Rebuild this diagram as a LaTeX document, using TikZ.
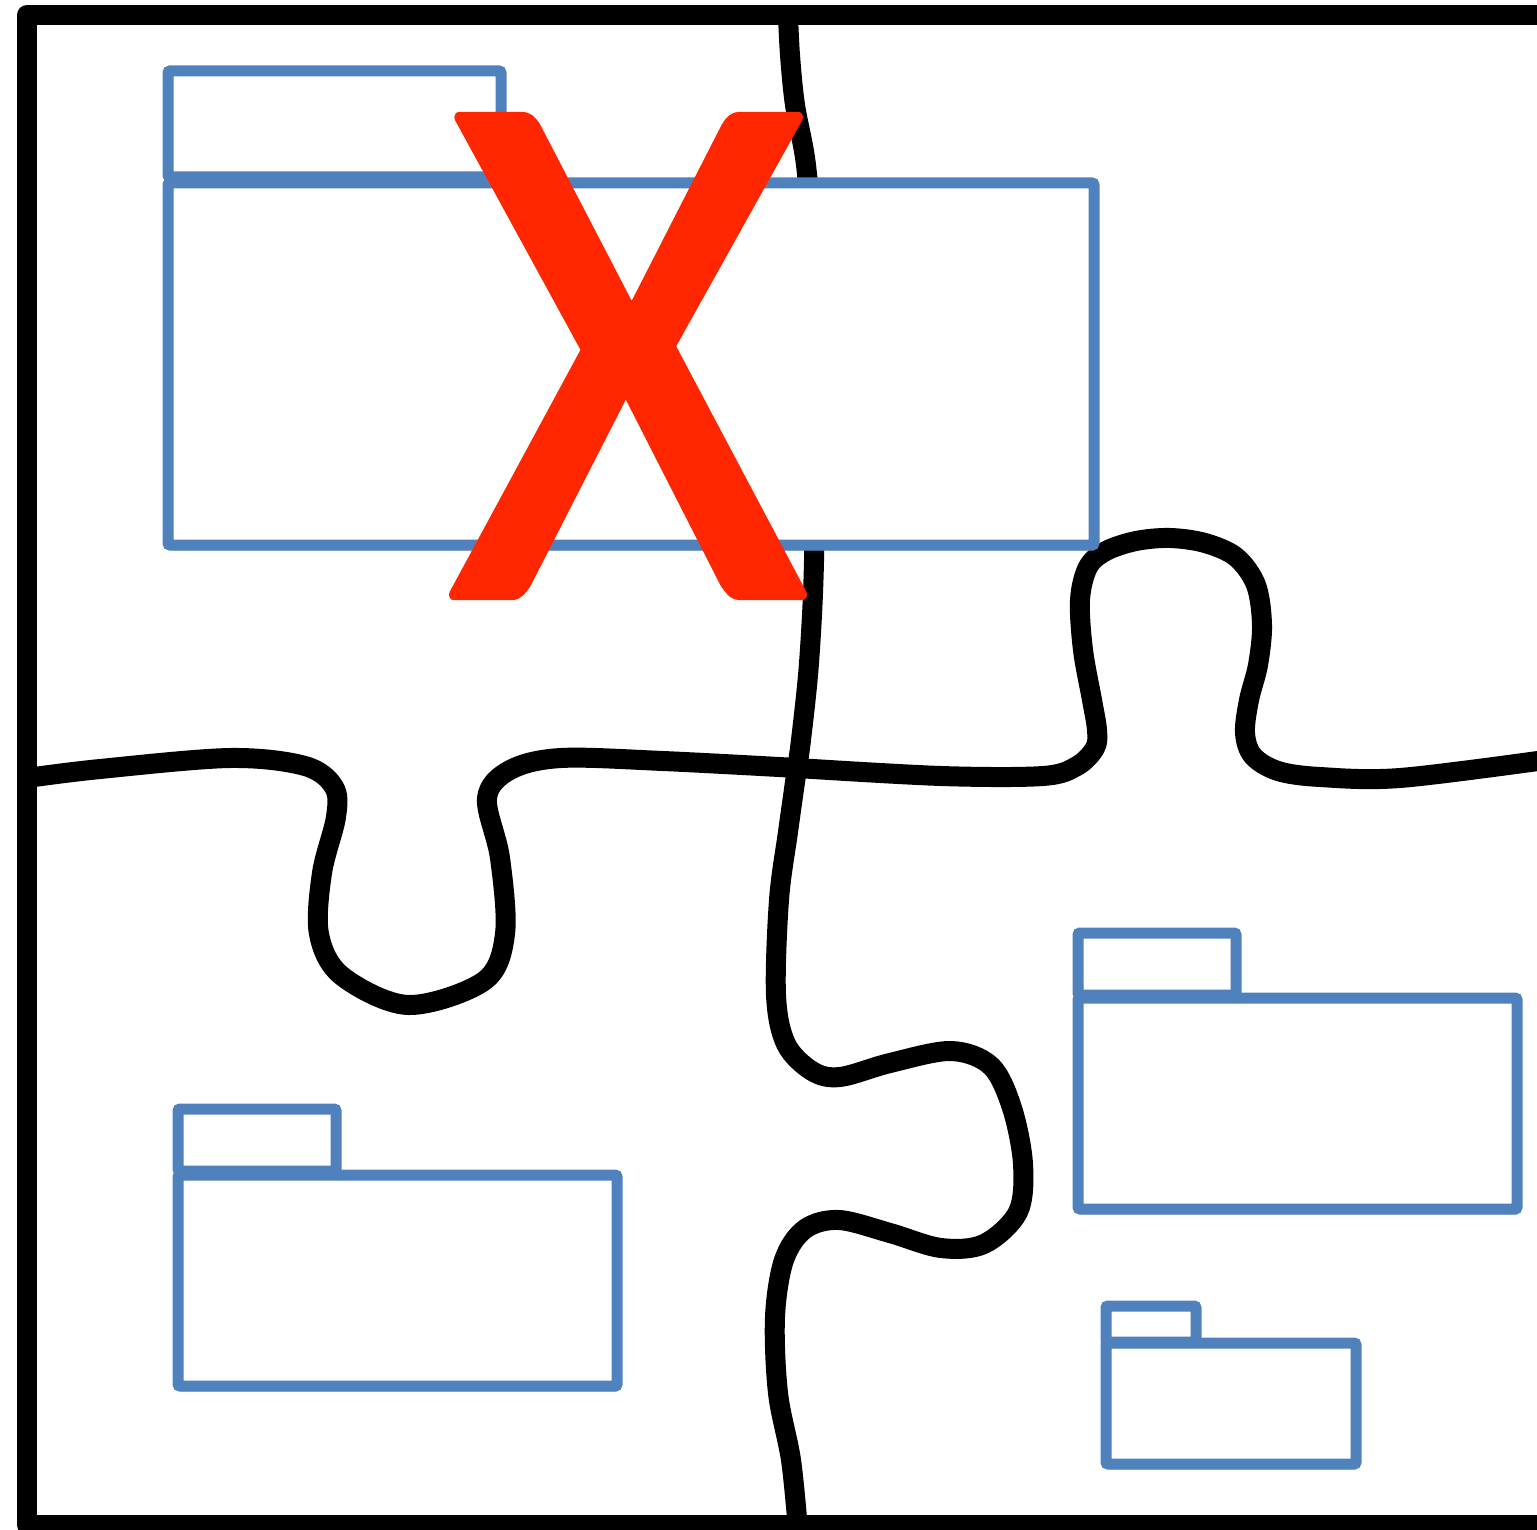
\documentclass[tikz,border=0pt]{standalone}
\usepackage{fontspec}
\newfontfamily\xfont{Carlito}
\usetikzlibrary{shadows}
\definecolor{pkgblue}{RGB}{79,129,189}
\definecolor{xred}{RGB}{255,38,0}
\tikzset{
  edge/.style={line width=20pt, line cap=round, line join=round, black},
  pkg/.style={draw=pkgblue, fill=white, line width=11pt, rounded corners=2pt,
    inner sep=0pt, outer sep=0pt,
    drop shadow={opacity=0.22, shadow xshift=2pt, shadow yshift=-6pt}},
  smoothline/.style={smooth, tension=0.55}
}
\begin{document}
\begin{tikzpicture}[x=1pt, y=-1pt]
\useasboundingbox (0,0) rectangle (1537,1530);
% frame
\draw[edge] (1545,15) -- (27,15) -- (27,1525) -- (1545,1525);
% vertical edge, upper part
\draw[edge] plot[smoothline] coordinates {(788,15) (790,55) (795,105) (806,165) (812,250) (815,400) (814,561) (809,663) (801,740) (797,768)};
% vertical edge, lower part
\draw[edge] plot[smoothline] coordinates {(797,768) (788,832) (779,900) (776,995) (786,1044) (812,1071) (840,1077) (890,1063) (951,1051) (991,1066) (1012,1108) (1023,1164) (1018,1212) (984,1244) (941,1248) (890,1233) (839,1220) (805,1229) (784,1260) (775,1317) (778,1393) (791,1460) (798,1530)};
% horizontal edge, left part
\draw[edge] plot[smoothline] coordinates {(27,778) (100,769) (230,758) (305,766) (334,787) (336,817) (322,873) (319,934) (342,976) (408,1005) (484,981) (505,934) (500,858) (487,798) (510,770) (561,758) (663,761) (797,768)};
% horizontal edge, right part
\draw[edge] plot[smoothline] coordinates {(797,768) (941,776) (1043,776) (1077,766) (1095,748) (1097,730) (1092,700) (1083,650) (1080,600) (1088,567) (1106,551) (1136,541) (1170,538) (1205,543) (1236,557) (1256,585) (1262,625) (1258,665) (1249,700) (1245,733) (1253,756) (1278,771) (1320,777) (1400,778) (1545,760)};
% packages
\node[pkg, minimum width=926pt, minimum height=362pt] (b1) at (631,364) {};
\node[pkg, minimum width=333pt, minimum height=106pt] (t1) at (334.5,124) {};
\node[pkg, minimum width=439pt, minimum height=211pt] (b2) at (397.5,1280.5) {};
\node[pkg, minimum width=158pt, minimum height=62pt] (t2) at (257,1140) {};
\node[pkg, minimum width=439pt, minimum height=211pt] (b3) at (1297.5,1103.5) {};
\node[pkg, minimum width=158pt, minimum height=62pt] (t3) at (1157,964) {};
\node[pkg, minimum width=250pt, minimum height=121pt] (b4) at (1231,1403.5) {};
\node[pkg, minimum width=90pt, minimum height=36pt] (t4) at (1151,1324) {};
% red cross
\node[inner sep=0pt, text=xred, font=\xfont\fontsize{744}{744}\selectfont] (cross) at (628,356)
  {\special{pdf:literal q 1 0.149 0 RG 2 Tr 1 j 1 J 11 w}\scalebox{0.92}[1]{X}\special{pdf:literal Q}};
\end{tikzpicture}
\end{document}
